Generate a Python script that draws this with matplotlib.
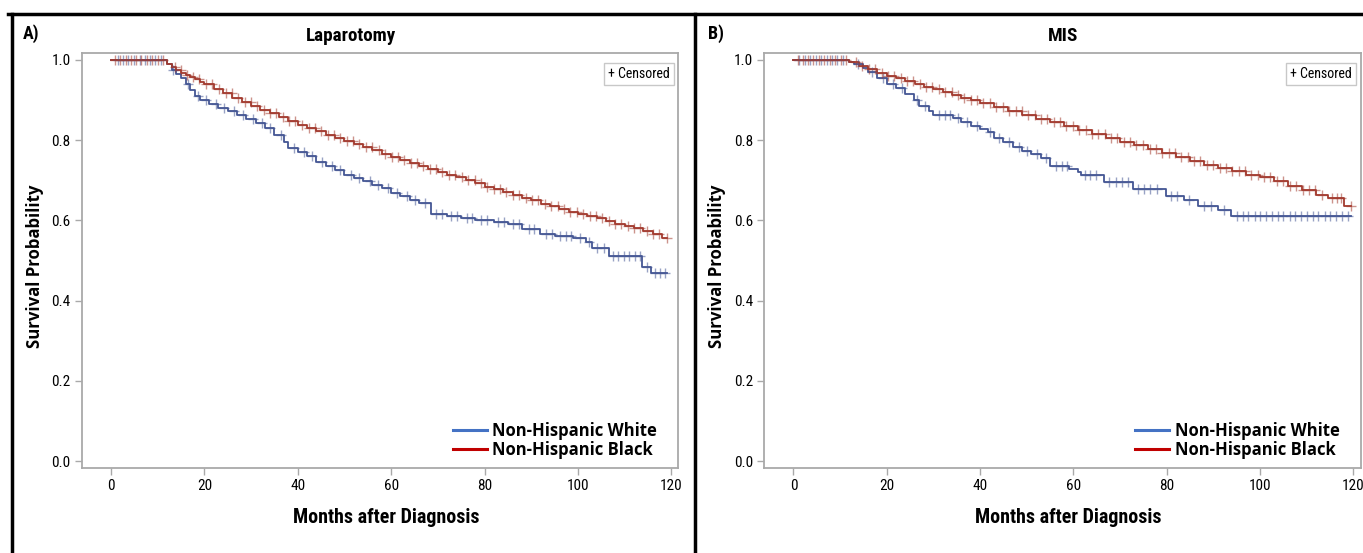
#%%
# Kaplan-Meier survival, Laparotomy vs MIS
import numpy as np
import matplotlib.pyplot as plt
from matplotlib.lines import Line2D
from matplotlib import font_manager

# A) Laparotomy - Non-Hispanic White
lap_white_t = [0, 12, 13, 14, 15, 16, 17, 18, 19, 21, 23, 25, 27, 29, 31, 33, 35, 37, 38, 40,
               42, 44, 46, 48, 50, 52, 54, 56, 58, 60, 62, 64, 66, 68.6, 72, 75, 78, 82, 85, 88,
               91.8, 95, 99, 101.8, 103, 106.7, 113.8, 115.7]
lap_white_s = [1.0, 0.99, 0.975, 0.965, 0.955, 0.94, 0.925, 0.91, 0.90, 0.89, 0.88, 0.872, 0.862,
               0.852, 0.842, 0.83, 0.812, 0.795, 0.78, 0.77, 0.76, 0.745, 0.735, 0.725, 0.712,
               0.705, 0.698, 0.688, 0.68, 0.668, 0.66, 0.65, 0.643, 0.617, 0.612, 0.605, 0.60,
               0.595, 0.59, 0.578, 0.565, 0.56, 0.556, 0.546, 0.53, 0.512, 0.485, 0.47]
lap_white_cens = [1.4, 2.6, 3.7, 4.9, 6.1, 7.2, 8.4, 9.5, 10.6, 13.2, 16.4, 18.6, 20.3, 22.4, 24.1,
                  26.3, 28.2, 30.5, 32.4, 34.1, 36.3, 39.2, 41.3, 43.1, 45.2, 47.4, 49.1, 51.3,
                  53.2, 55.4, 57.1, 59.3, 61.2, 63.4, 65.1, 67.2, 69.6, 70.8, 72.9, 74.1, 76.3,
                  77.4, 79.2, 80.6, 82.8, 84.1, 86.2, 87.3, 89.5, 90.6, 93.1, 94.4, 96.2, 97.5,
                  98.6, 100.4, 102.3, 104.2, 105.5, 107.5, 108.7, 109.9, 111.0, 112.2, 113.3,
                  114.8, 116.5, 117.6, 118.7]
lap_white_end = 119

# A) Laparotomy - Non-Hispanic Black
lap_black_t = [0, 12, 13, 14, 15, 16, 17, 18, 19, 20, 22, 24, 26, 28, 30, 32, 34, 36, 38, 40,
               42, 44, 46, 48, 50, 52, 54, 56, 58, 60, 62, 64, 66, 68, 70, 72, 74, 76, 78, 80,
               82, 84, 86, 88, 90, 92, 94, 96, 98, 100, 102, 104, 106, 108, 110, 112, 114, 116, 118]
lap_black_s = [1.0, 0.99, 0.982, 0.975, 0.968, 0.962, 0.957, 0.952, 0.946, 0.94, 0.928, 0.917,
               0.905, 0.895, 0.885, 0.876, 0.867, 0.858, 0.848, 0.838, 0.83, 0.822, 0.814, 0.806,
               0.798, 0.79, 0.782, 0.775, 0.766, 0.758, 0.75, 0.743, 0.735, 0.728, 0.721, 0.714,
               0.707, 0.70, 0.692, 0.684, 0.677, 0.671, 0.664, 0.657, 0.65, 0.642, 0.635, 0.628,
               0.622, 0.617, 0.611, 0.605, 0.598, 0.592, 0.586, 0.580, 0.574, 0.567, 0.555]
lap_black_cens = [0.8, 1.9, 3.1, 4.2, 5.4, 6.5, 7.7, 8.8, 10.0, 11.1, 13.6, 14.9, 16.3, 17.6,
                  18.9, 20.4, 21.7, 23.1, 24.6, 25.9, 27.2, 28.6, 29.9, 31.3, 32.7, 34.0, 35.4,
                  36.8, 38.1, 39.5, 40.8, 42.3, 43.6, 45.0, 46.4, 47.7, 49.1, 50.5, 51.8, 53.2,
                  54.6, 55.9, 57.3, 58.7, 60.1, 61.4, 62.8, 64.2, 65.5, 66.9, 68.3, 69.6, 71.0,
                  72.4, 73.7, 75.1, 76.5, 77.9, 79.2, 80.6, 82.0, 83.3, 84.7, 86.1, 87.4, 88.8,
                  90.2, 91.5, 92.9, 94.3, 95.7, 97.0, 98.4, 99.8, 101.1, 102.5, 103.9, 105.2,
                  106.6, 108.0, 109.3, 110.7, 112.1, 113.4, 114.8, 116.2, 117.3, 119.0]
lap_black_end = 119

# B) MIS - Non-Hispanic White
mis_white_t = [0, 12, 13, 15, 16, 18, 20, 22, 24, 25.8, 27, 29, 30, 34.3, 36, 38, 40, 41.6, 42.9,
               45, 47, 49, 51, 53, 55, 59, 60.9, 61.6, 66.5, 72.7, 79.8, 83.7, 86.7, 91, 93.8]
mis_white_s = [1.0, 0.995, 0.99, 0.98, 0.97, 0.955, 0.94, 0.93, 0.915, 0.90, 0.885, 0.872, 0.862,
               0.855, 0.845, 0.835, 0.828, 0.821, 0.805, 0.795, 0.783, 0.772, 0.765, 0.755,
               0.735, 0.728, 0.72, 0.712, 0.696, 0.678, 0.66, 0.652, 0.637, 0.625, 0.61]
mis_white_cens = [1.3, 2.5, 3.6, 4.8, 5.9, 7.1, 8.3, 9.4, 10.6, 13.8, 16.8, 19.2, 21.3, 23.2,
                  26.4, 28.1, 31.2, 32.4, 33.6, 35.2, 37.1, 39.3, 42.2, 44.1, 46.2, 48.3, 50.1,
                  52.2, 54.1, 56.3, 57.5, 58.6, 62.4, 63.6, 64.9, 67.7, 69.1, 70.4, 71.6, 73.8,
                  75.1, 76.4, 77.9, 80.9, 82.2, 84.8, 87.9, 89.4, 92.2, 95.0, 96.3, 97.5, 98.8,
                  100.0, 101.3, 102.5, 103.8, 105.0, 106.3, 107.5, 108.8, 110.0, 111.3, 112.5,
                  113.8, 115.0, 116.3, 117.5, 118.8]
mis_white_end = 119.5

# B) MIS - Non-Hispanic Black
mis_black_t = [0, 12, 14, 16, 18, 20, 22, 24, 26, 28, 30, 32, 34, 36, 38, 40, 43, 46, 49, 52,
               55, 58, 61, 64, 67, 70, 73, 76, 79, 82, 85, 88, 91, 94, 97, 100, 103, 106, 109,
               112, 114.6, 118]
mis_black_s = [1.0, 0.995, 0.985, 0.977, 0.968, 0.961, 0.954, 0.947, 0.94, 0.933, 0.927, 0.92,
               0.913, 0.906, 0.899, 0.892, 0.883, 0.873, 0.862, 0.852, 0.845, 0.835, 0.826,
               0.815, 0.805, 0.795, 0.787, 0.778, 0.767, 0.757, 0.748, 0.738, 0.73, 0.722,
               0.714, 0.708, 0.697, 0.686, 0.675, 0.664, 0.655, 0.637]
mis_black_cens = [0.9, 2.0, 3.2, 4.3, 5.5, 6.6, 7.8, 8.9, 10.1, 11.2, 13.4, 14.8, 16.1, 17.5,
                  18.9, 20.2, 21.6, 23.0, 24.3, 25.7, 27.1, 28.4, 29.8, 31.2, 32.5, 33.9, 35.3,
                  36.6, 38.0, 39.4, 40.7, 42.1, 43.5, 44.8, 46.2, 47.6, 48.9, 50.3, 51.7, 53.0,
                  54.4, 55.8, 57.1, 58.5, 59.9, 61.2, 62.6, 64.0, 65.3, 66.7, 68.1, 69.4, 70.8,
                  72.2, 73.5, 74.9, 76.3, 77.6, 79.0, 80.4, 81.7, 83.1, 84.5, 85.8, 87.2, 88.6,
                  89.9, 91.3, 92.7, 94.0, 95.4, 96.8, 98.1, 99.5, 100.9, 102.2, 103.6, 105.0,
                  106.3, 107.7, 109.1, 110.4, 111.8, 113.2, 115.4, 116.4, 117.4, 119.5]
mis_black_end = 119.5

panels = [
    ('A)', 'Laparotomy',
     (lap_white_t, lap_white_s, lap_white_cens, lap_white_end),
     (lap_black_t, lap_black_s, lap_black_cens, lap_black_end)),
    ('B)', 'MIS',
     (mis_white_t, mis_white_s, mis_white_cens, mis_white_end),
     (mis_black_t, mis_black_s, mis_black_cens, mis_black_end)),
]

xticks = [0, 20, 40, 60, 80, 100, 120]
yticks = [0.0, 0.2, 0.4, 0.6, 0.8, 1.0]
legend_labels = ['Non-Hispanic White', 'Non-Hispanic Black']

col_curve = ['#445694', '#A23A2E']
col_legend = ['#4472C4', '#C00000']
grey = '#a9a9a9'

# pick a narrow font if there is one
installed = {f.name for f in font_manager.fontManager.ttflist}
narrow = next(n for n in ['Liberation Sans Narrow', 'Roboto Condensed', 'Roboto',
                          'Liberation Sans', 'DejaVu Sans'] if n in installed)
bold_font = next(n for n in ['Open Sans', 'Noto Sans', 'DejaVu Sans'] if n in installed)

W, H = 1363, 553
fig = plt.figure(figsize=(W / 100, H / 100), dpi=100)
renderer = fig.canvas.get_renderer()


def fit(txt, size_px, vertical=False):
    # shrink/grow a text so it is as long as in the reference
    bb = txt.get_window_extent(renderer)
    cur = bb.height if vertical else bb.width
    txt.set_fontsize(txt.get_fontsize() * size_px / cur)


ax_left_px = [81.7, 764]
ax_w_px = 596.5
ax_top_px, ax_bot_px = 52.7, 467.5
letter_x = [31, 716]
title_x = [351, 1063]
title_w = [90, 30]


def km(ax, t, s, cens, end, color):
    tt = list(t) + [end]
    ss = list(s) + [s[-1]]
    ax.step(tt, ss, where='post', color=color, lw=1.3, zorder=3)
    idx = np.searchsorted(np.array(t), np.array(cens), side='right') - 1
    cy = np.array(s)[idx]
    ax.plot(cens, cy, ls='none', marker='+', ms=6.5, mew=1.0, color=color, alpha=0.55, zorder=4)


for i, (letter, title, white, black) in enumerate(panels):
    ax = fig.add_axes([ax_left_px[i] / W, 1 - ax_bot_px / H,
                       ax_w_px / W, (ax_bot_px - ax_top_px) / H])
    km(ax, *white, col_curve[0])
    km(ax, *black, col_curve[1])

    ax.set_xlim(-6.3, 121.5)
    ax.set_ylim(-0.016, 1.018)
    ax.set_xticks(xticks)
    ax.set_yticks(yticks)
    ax.set_xticklabels([str(v) for v in xticks], family=narrow, fontsize=11)
    ax.set_yticklabels(['%.1f' % v for v in yticks], family=narrow, fontsize=11)
    ax.tick_params(direction='out', length=5, width=1, color=grey, pad=3)
    for sp in ax.spines.values():
        sp.set_color(grey)
        sp.set_linewidth(1.3)

    xl = ax.set_xlabel('Months after Diagnosis', family=narrow, fontweight='bold', fontsize=13)
    ax.xaxis.set_label_coords(0.51, -0.097)
    fit(xl, 186)
    yl = ax.set_ylabel('Survival Probability', family=bold_font, fontweight='bold', fontsize=12)
    ax.yaxis.set_label_coords(-0.064, 0.485)
    fit(yl, 163, vertical=True)

    fig.text(letter_x[i] / W, 1 - 34 / H, letter, family=narrow, fontweight='bold',
             fontsize=13, ha='center', va='center')
    tt = fig.text(title_x[i] / W, 1 - 36 / H, title, family=narrow, fontweight='bold',
                  fontsize=12, ha='center', va='center')
    fit(tt, title_w[i])

    ax.text(0.986, 0.966, '+ Censored', transform=ax.transAxes, ha='right', va='top',
            family=narrow, fontsize=10,
            bbox=dict(boxstyle='square,pad=0.3', fc='white', ec='#c8c8c8', lw=1))

    handles = [Line2D([], [], color=c, lw=2.2) for c in col_legend]
    ax.legend(handles, legend_labels, loc='lower right', bbox_to_anchor=(0.99, -0.015),
              frameon=False, handlelength=2.0, handletextpad=0.35, labelspacing=0.05,
              prop=dict(family=bold_font, weight='bold', size=12))

# black panel frame
frame = dict(color='black', lw=2.5, transform=fig.transFigure)
fig.add_artist(Line2D([8 / W, 1], [1 - 14 / H, 1 - 14 / H], **frame))
fig.add_artist(Line2D([12 / W, 12 / W], [0, 1 - 14 / H], **frame))
fig.add_artist(Line2D([694.5 / W, 694.5 / W], [0, 1 - 14 / H], **frame))

fig.savefig('out.png', dpi=100)
